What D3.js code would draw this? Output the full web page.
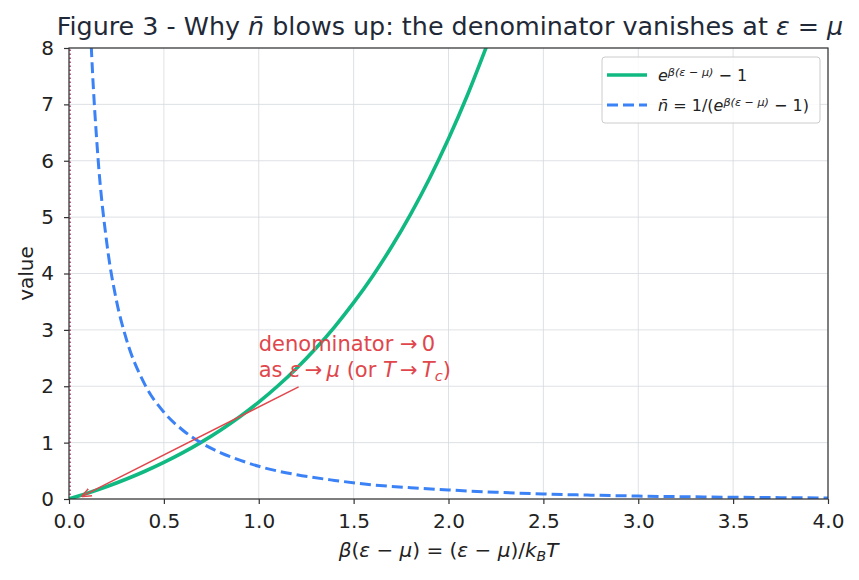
<!DOCTYPE html>
<html>
<head>
<meta charset="utf-8">
<script src="https://cdn.jsdelivr.net/npm/d3@7"></script>
<style>
  body { margin: 0; background: #fff; }
  svg { font-family: "DejaVu Sans", sans-serif; }
</style>
</head>
<body>
<div id="chart"></div>
<script>
// 图表尺寸
const WIDTH = 859;
const HEIGHT = 580;
const margin = { top: 48, right: 31, bottom: 81, left: 69 };

// 绿色曲线 e^x - 1
const growX = [0, 0.1, 0.2, 0.3, 0.4, 0.5, 0.6, 0.7, 0.8, 0.9, 1.0, 1.1, 1.2, 1.3, 1.4, 1.5, 1.6, 1.7, 1.8, 1.9, 2.0, 2.1, 2.2];
const growY = [0, 0.105, 0.221, 0.350, 0.492, 0.649, 0.822, 1.014, 1.226, 1.460, 1.718, 2.004, 2.320, 2.669, 3.055, 3.482, 3.953, 4.474, 5.050, 5.686, 6.389, 7.166, 8.025];

// 蓝色虚线 n̄
const occX = [0.11, 0.12, 0.15, 0.2, 0.25, 0.3, 0.4, 0.5, 0.6, 0.7, 0.8, 0.9, 1.0, 1.2, 1.4, 1.6, 1.8, 2.0, 2.25, 2.5, 2.75, 3.0, 3.25, 3.5, 3.75, 4.0];
const occY = [8.60, 7.84, 6.18, 4.52, 3.52, 2.86, 2.03, 1.54, 1.22, 0.99, 0.82, 0.69, 0.58, 0.43, 0.33, 0.25, 0.20, 0.16, 0.12, 0.089, 0.068, 0.052, 0.040, 0.031, 0.024, 0.019];

const xTicks = [0, 0.5, 1.0, 1.5, 2.0, 2.5, 3.0, 3.5, 4.0];
const yTicks = [0, 1, 2, 3, 4, 5, 6, 7, 8];

const GREEN = '#10b981';
const BLUE = '#3b82f6';
const RED = '#e0464b';

const svg = d3.select('#chart')
    .append('svg')
    .attr('width', WIDTH)
    .attr('height', HEIGHT);

const x = d3.scaleLinear().domain([0, 4]).range([margin.left, WIDTH - margin.right]);
const y = d3.scaleLinear().domain([0, 8]).range([HEIGHT - margin.bottom, margin.top]);

// 裁剪区域
svg.append('defs')
    .append('clipPath')
    .attr('id', 'plot-clip')
    .append('rect')
    .attr('x', margin.left)
    .attr('y', margin.top)
    .attr('width', WIDTH - margin.left - margin.right)
    .attr('height', HEIGHT - margin.top - margin.bottom);

svg.select('defs')
    .append('marker')
    .attr('id', 'arrowhead')
    .attr('viewBox', '0 -5 10 10')
    .attr('refX', 9)
    .attr('refY', 0)
    .attr('markerWidth', 10)
    .attr('markerHeight', 10)
    .attr('markerUnits', 'userSpaceOnUse')
    .attr('orient', 'auto')
    .append('path')
    .attr('d', 'M0,-4L10,0L0,4')
    .attr('fill', 'none')
    .attr('stroke', RED)
    .attr('stroke-width', 1.4);

// 网格线
const grid = svg.append('g').attr('stroke', '#d5d9de').attr('stroke-width', 0.8);
grid.selectAll('.gx').data(xTicks).enter().append('line')
    .attr('x1', d => x(d)).attr('x2', d => x(d))
    .attr('y1', y(0)).attr('y2', y(8));
grid.selectAll('.gy').data(yTicks).enter().append('line')
    .attr('x1', x(0)).attr('x2', x(4))
    .attr('y1', d => y(d)).attr('y2', d => y(d));

// 曲线
const plot = svg.append('g').attr('clip-path', 'url(#plot-clip)');

// x=0 处的点线
plot.append('line')
    .attr('x1', x(0) + 1).attr('x2', x(0) + 1)
    .attr('y1', y(0)).attr('y2', y(8))
    .attr('stroke', '#b5306a')
    .attr('stroke-width', 1.6)
    .attr('stroke-dasharray', '1.5,2.5');

const line = d3.line()
    .x(d => x(d[0]))
    .y(d => y(d[1]))
    .curve(d3.curveMonotoneX);

plot.append('path')
    .datum(growX.map((v, i) => [v, growY[i]]))
    .attr('d', line)
    .attr('fill', 'none')
    .attr('stroke', GREEN)
    .attr('stroke-width', 3.6);

plot.append('path')
    .datum(occX.map((v, i) => [v, occY[i]]))
    .attr('d', line)
    .attr('fill', 'none')
    .attr('stroke', BLUE)
    .attr('stroke-width', 3)
    .attr('stroke-dasharray', '11,5');

// 坐标轴
const xAxis = svg.append('g')
    .attr('transform', `translate(0,${y(0)})`)
    .call(d3.axisBottom(x).tickValues(xTicks).tickFormat(d3.format('.1f')).tickSize(5).tickPadding(10));
const yAxis = svg.append('g')
    .attr('transform', `translate(${x(0)},0)`)
    .call(d3.axisLeft(y).tickValues(yTicks).tickFormat(d3.format('d')).tickSize(5).tickPadding(10));

[xAxis, yAxis].forEach(ax => {
    ax.select('.domain').remove();
    ax.selectAll('line').attr('stroke', '#333').attr('stroke-width', 1.2);
    ax.selectAll('text').attr('fill', '#222').attr('font-size', 20).attr('font-family', 'DejaVu Sans');
});

// 边框
svg.append('rect')
    .attr('x', x(0)).attr('y', y(8))
    .attr('width', x(4) - x(0)).attr('height', y(0) - y(8))
    .attr('fill', 'none')
    .attr('stroke', '#333')
    .attr('stroke-width', 1.2);

// 辅助函数：写带斜体和上标的文本
function richText(sel, parts) {
    parts.forEach(p => {
        const t = sel.append('tspan').text(p.t);
        if (p.i) t.attr('font-style', 'italic');
        if (p.sup) t.attr('baseline-shift', '45%').attr('font-size', '70%');
        if (p.sub) t.attr('baseline-shift', '-25%').attr('font-size', '70%');
    });
    return sel;
}

// 标题
richText(svg.append('text')
    .attr('x', 450)
    .attr('y', 35)
    .attr('text-anchor', 'middle')
    .attr('font-size', 25.4)
    .attr('fill', '#1f2937'),
    [{ t: 'Figure 3 - Why ' }, { t: 'n\u0304', i: true }, { t: ' blows up: the denominator vanishes at ' },
     { t: 'ε', i: true }, { t: ' = ' }, { t: 'μ', i: true }]);

// 轴标题
richText(svg.append('text')
    .attr('x', (x(0) + x(4)) / 2)
    .attr('y', 557)
    .attr('text-anchor', 'middle')
    .attr('font-size', 20)
    .attr('fill', '#222'),
    [{ t: 'β', i: true }, { t: '(' }, { t: 'ε', i: true }, { t: ' − ' }, { t: 'μ', i: true }, { t: ') = (' },
     { t: 'ε', i: true }, { t: ' − ' }, { t: 'μ', i: true }, { t: ')/' }, { t: 'k', i: true }, { t: 'B', i: true, sub: true },
     { t: 'T', i: true }]);

svg.append('text')
    .attr('transform', `translate(33,${(y(0) + y(8)) / 2}) rotate(-90)`)
    .attr('text-anchor', 'middle')
    .attr('font-size', 20)
    .attr('fill', '#222')
    .text('value');

// 注释
svg.append('line')
    .attr('x1', x(1.21)).attr('y1', y(1.99))
    .attr('x2', x(0.07)).attr('y2', y(0.05))
    .attr('stroke', RED)
    .attr('stroke-width', 1.4)
    .attr('marker-end', 'url(#arrowhead)');

richText(svg.append('text').attr('x', x(1.0)).attr('y', 351).attr('font-size', 21).attr('fill', RED),
    [{ t: 'denominator \u2192\u20090' }]);
richText(svg.append('text').attr('x', x(1.0)).attr('y', 377).attr('font-size', 21).attr('fill', RED),
    [{ t: 'as ' }, { t: 'ε', i: true }, { t: '\u2009\u2192\u2009' }, { t: 'μ', i: true }, { t: ' (or ' }, { t: 'T', i: true },
     { t: '\u2009\u2192\u2009' }, { t: 'T', i: true }, { t: 'c', i: true, sub: true }, { t: ')' }]);

// 图例
const legend = svg.append('g').attr('transform', 'translate(602,57)');
legend.append('rect')
    .attr('width', 218).attr('height', 66).attr('rx', 3)
    .attr('fill', '#fff').attr('fill-opacity', 0.85)
    .attr('stroke', '#ccc');
legend.append('line')
    .attr('x1', 5).attr('x2', 45).attr('y1', 18).attr('y2', 18)
    .attr('stroke', GREEN).attr('stroke-width', 3.6);
legend.append('line')
    .attr('x1', 5).attr('x2', 45).attr('y1', 48).attr('y2', 48)
    .attr('stroke', BLUE).attr('stroke-width', 3).attr('stroke-dasharray', '11,5');
richText(legend.append('text').attr('x', 56).attr('y', 24).attr('font-size', 16).attr('fill', '#222'),
    [{ t: 'e', i: true }, { t: 'β(ε − μ)', i: true, sup: true }, { t: ' − 1' }]);
richText(legend.append('text').attr('x', 56).attr('y', 54).attr('font-size', 16).attr('fill', '#222'),
    [{ t: 'n\u0304', i: true }, { t: ' = 1/(' }, { t: 'e', i: true }, { t: 'β(ε − μ)', i: true, sup: true }, { t: ' − 1)' }]);
</script>
</body>
</html>
